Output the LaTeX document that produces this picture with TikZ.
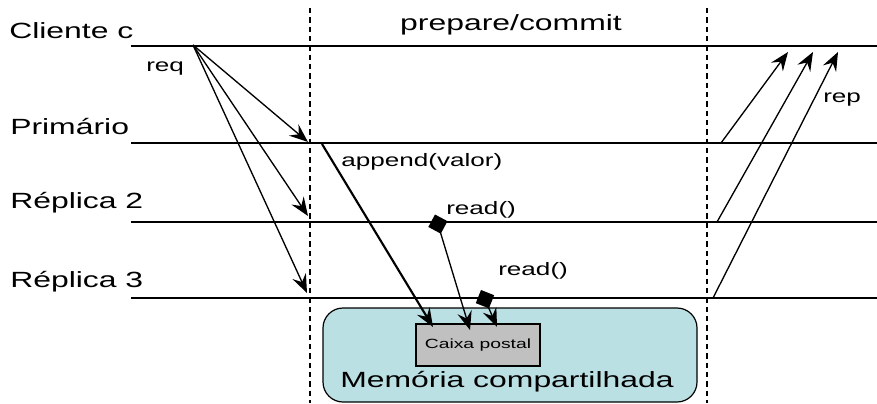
\documentclass[tikz,border=0pt]{standalone}
\usepackage{fontspec}
\setmainfont{Liberation Sans}[FakeStretch=1.45]
\usetikzlibrary{arrows.meta}
\definecolor{memfill}{RGB}{187,224,227}
\definecolor{boxgray}{RGB}{192,192,192}
\tikzstyle{timeline} = [
    line width=1pt
]
\tikzstyle{phase} = [
    line width=0.8pt,
    dash pattern=on 4pt off 3pt
]
\tikzstyle{arrow} = [
    line width=1pt,
    -{Stealth[length=14pt,width=11pt,inset=5pt]}
]
\tikzstyle{readarrow} = [
    line width=1pt,
    {Diamond[length=15pt,width=15pt]}-{Stealth[length=14pt,width=11pt,inset=5pt]}
]
\tikzstyle{procname} = [
    anchor=base west,
    inner sep=0pt,
    font=\fontsize{16.5}{19}\selectfont
]
\tikzstyle{msg} = [
    anchor=base west,
    inner sep=0pt,
    font=\fontsize{13.5}{16}\selectfont
]

\begin{document}
\begin{tikzpicture}[x=0.75pt, y=-0.75pt]

\useasboundingbox (0,0) rectangle (877,403);

\tikzstyle{mailbox} = [
    rectangle,
    minimum width=93pt,
    minimum height=31.5pt,
    draw=black,
    fill=boxgray,
    line width=0.9pt,
    font=\fontsize{10}{12}\selectfont
]

\node (mem) [rectangle, rounded corners=15pt, minimum width=280.5pt,
    minimum height=70.5pt, draw=black, fill=memfill, line width=0.9pt]
    at (510,355) {};
\node (memlbl) [anchor=base, inner sep=0pt, font=\fontsize{16.5}{19}\selectfont]
    at (507,387) {Memória compartilhada};
\node (caixa) [mailbox] at (478,345) {Caixa postal};

\draw[timeline] (131,46) -- (877,46);
\draw[timeline] (131,143) -- (877,143);
\draw[timeline] (131,222) -- (877,222);
\draw[timeline] (131,298) -- (877,298);

\draw[phase] (310,8) -- (310,403);
\draw[phase] (707,8) -- (707,403);

\node (cliente) [procname] at (9,39)  {Cliente c};
\node (prim)    [procname] at (10,134) {Primário};
\node (rep2)    [procname] at (10,208) {Réplica 2};
\node (rep3)    [procname] at (10,287) {Réplica 3};

\node (fase) [anchor=base, inner sep=0pt, font=\fontsize{16.5}{19}\selectfont]
    at (511,31) {prepare/commit};

\node (req)    [msg] at (146,71)  {req};
\node (rep)    [msg] at (823,103) {rep};
\node (append) [msg] at (341,166) {append(valor)};
\node (read2)  [msg] at (446,214) {read()};
\node (read3)  [msg] at (498,275) {read()};

\coordinate (cli)   at (193,45);
\coordinate (reqP)  at (308,142);
\coordinate (reqR2) at (308,216);
\coordinate (reqR3) at (307,293);
\coordinate (appS)  at (322,144);
\coordinate (appE)  at (433,327);
\coordinate (rd2S)  at (435,214.5);
\coordinate (rd2E)  at (470,330);
\coordinate (rd3S)  at (481,290);
\coordinate (rd3E)  at (497,327);
\coordinate (repPS)  at (721,143);
\coordinate (repPE)  at (788,52);
\coordinate (repR2S) at (717,222);
\coordinate (repR2E) at (813,52);
\coordinate (repR3S) at (713,298);
\coordinate (repR3E) at (838,52);

\draw[arrow] (cli) -- (reqP);
\draw[arrow] (cli) -- (reqR2);
\draw[arrow] (cli) -- (reqR3);
\draw[arrow, line width=1.6pt] (appS) -- (appE);
\draw[readarrow] (rd2S) -- (rd2E);
\draw[readarrow] (rd3S) -- (rd3E);
\draw[arrow] (repPS) -- (repPE);
\draw[arrow] (repR2S) -- (repR2E);
\draw[arrow] (repR3S) -- (repR3E);

\end{tikzpicture}
\end{document}
